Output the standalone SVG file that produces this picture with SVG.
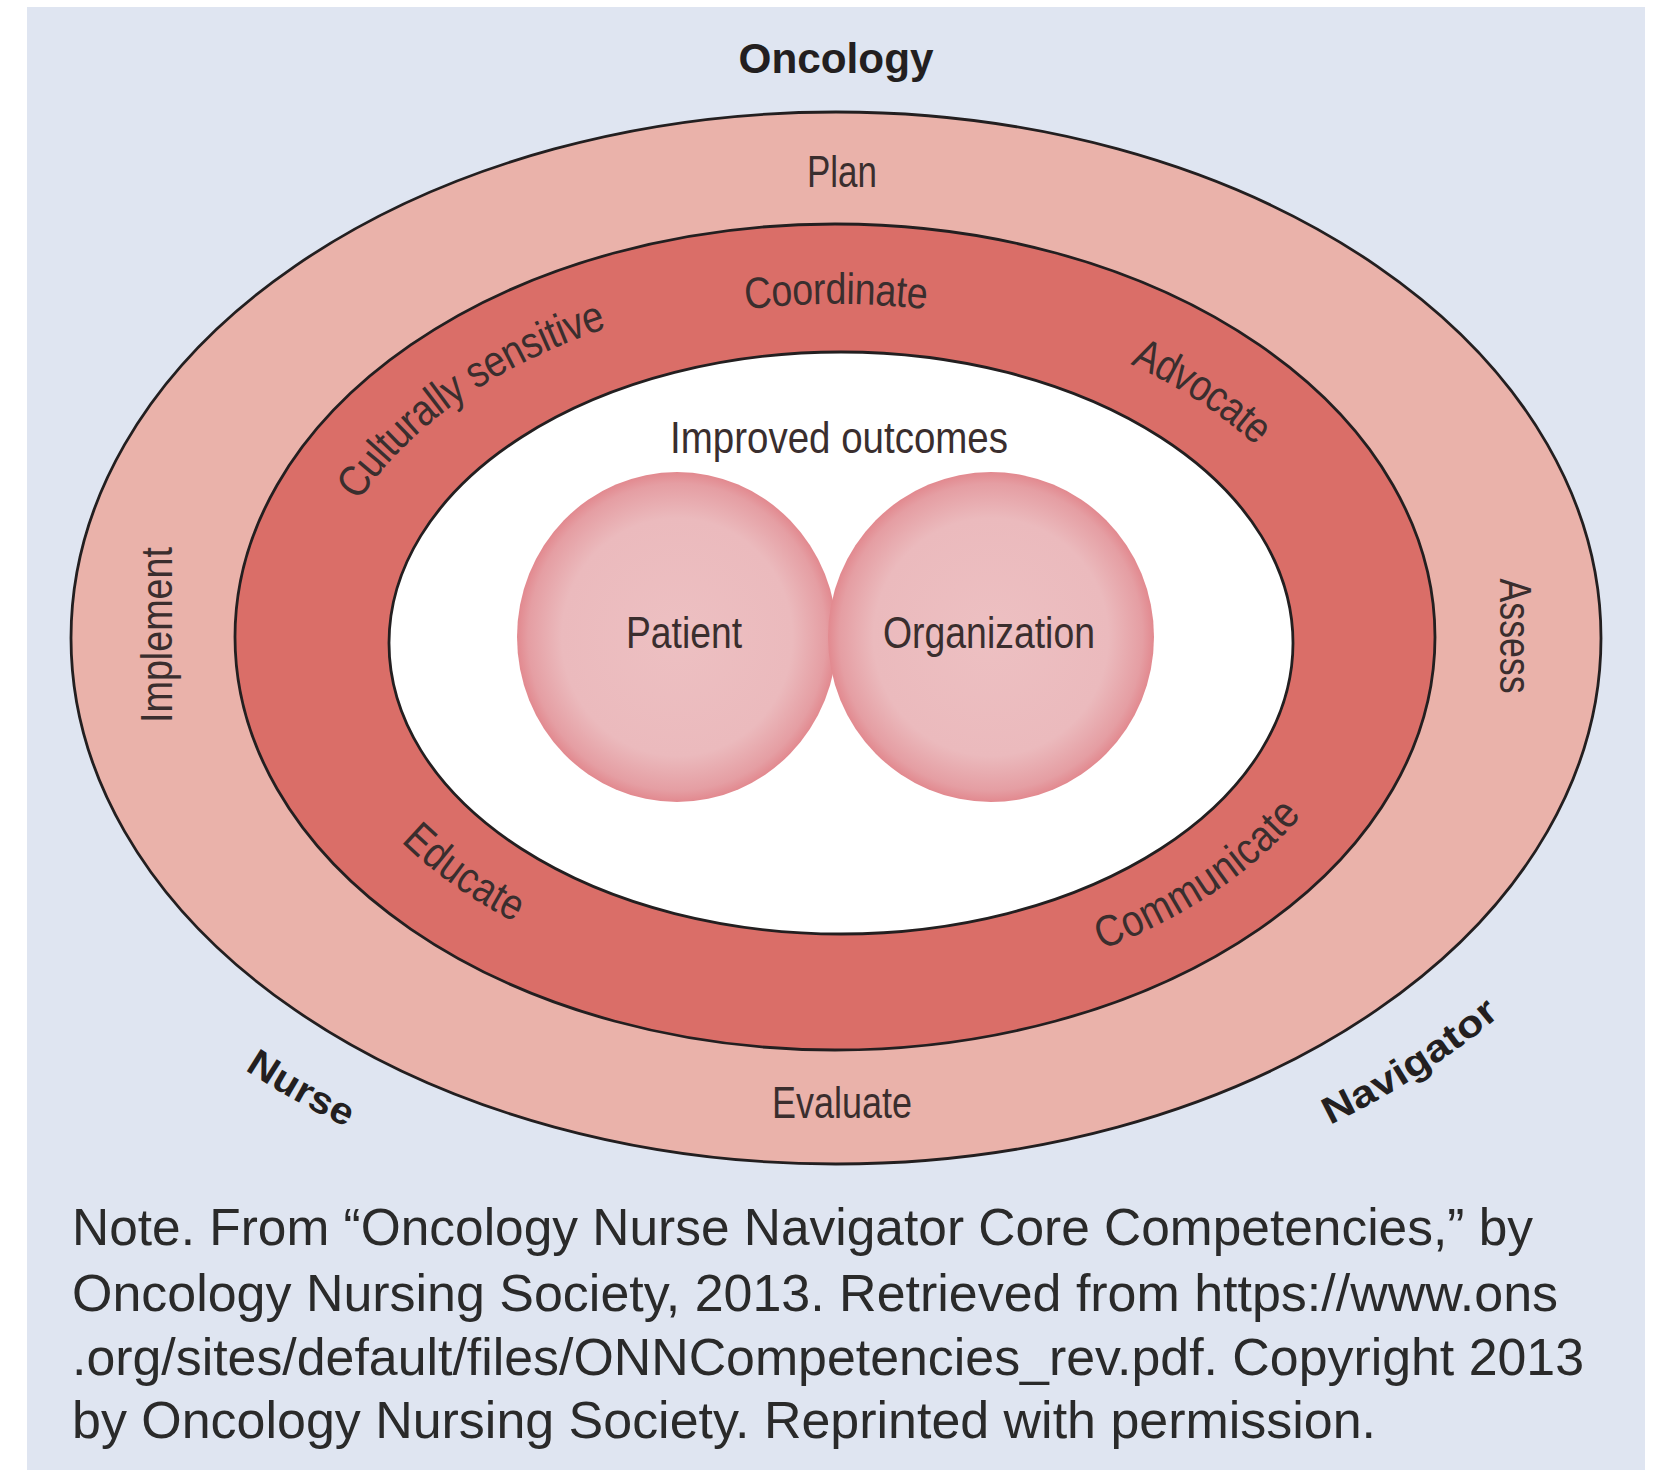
<svg xmlns="http://www.w3.org/2000/svg" width="1656" height="1470" viewBox="0 0 1656 1470">
<style>
.ring{stroke:#231f20;stroke-width:2.8}
.lbl{font-family:"Liberation Sans Narrow","Liberation Sans",Arial,sans-serif;font-size:44px;fill:#3a2e2e}
.big{font-family:"Liberation Sans",Arial,sans-serif;font-weight:bold;fill:#231f20}
.note{font-family:"Liberation Sans",Arial,sans-serif;font-size:52px;fill:#2a2a2a}
</style>
<defs>
<radialGradient id="bub" cx="50%" cy="50%" r="50%">
<stop offset="0" stop-color="#edc0c2"/>
<stop offset="0.72" stop-color="#ebbabd"/>
<stop offset="0.93" stop-color="#e59ea3"/>
<stop offset="1" stop-color="#e2898f"/>
</radialGradient>
<path id="pCult" d="M 317.4 545.8 A 542 366 0 0 1 640.2 301.6"/>
<path id="pCoord" d="M 655.8 309.2 A 527 352 0 0 1 1016.2 309.2"/>
<path id="pAdv" d="M 1098.5 333.6 A 527 352 0 0 1 1295.4 464"/>
<path id="pEdu" d="M 383.8 799.1 A 515 340 0 0 0 560.0 925.8"/>
<path id="pComm" d="M 1068.8 944.3 A 515 340 0 0 0 1310.2 777.2"/>
<path id="pNurse" d="M 225.4 1040.8 A 846 582 0 0 0 381.4 1128.9"/>
<path id="pNav" d="M 1294.3 1127.2 A 846 582 0 0 0 1512.5 987.4"/>
</defs>
<rect x="0" y="0" width="1656" height="1470" fill="#ffffff"/>
<rect id="background" x="27" y="7" width="1618" height="1463" fill="#dfe5f1"/>

<g id="outer-ring">
<ellipse class="ring" cx="836" cy="638" rx="765" ry="526" fill="#eab2aa"/>
</g>
<g id="middle-ring">
<ellipse class="ring" cx="835" cy="637" rx="600" ry="413" fill="#da6e68"/>
</g>
<g id="inner-area">
<ellipse class="ring" cx="841" cy="643" rx="452" ry="291" fill="#ffffff"/>
</g>
<g id="patient">
<ellipse cx="677" cy="637" rx="160" ry="165" fill="url(#bub)"/>
<text class="lbl" x="684" y="648" text-anchor="middle" textLength="116" lengthAdjust="spacingAndGlyphs" font-size="45" fill="#3b3136">Patient</text>
</g>
<g id="organization">
<ellipse cx="991" cy="637" rx="163" ry="165" fill="url(#bub)"/>
<text class="lbl" x="989" y="648" text-anchor="middle" textLength="212" lengthAdjust="spacingAndGlyphs" font-size="45" fill="#3b3136">Organization</text>
</g>

<g id="labels">
<g id="oncology"><text class="big" x="836" y="73" font-size="42" text-anchor="middle" textLength="195" lengthAdjust="spacingAndGlyphs">Oncology</text></g>
<g id="nurse"><text class="big" font-size="38" dominant-baseline="central"><textPath href="#pNurse" startOffset="50%" text-anchor="middle" textLength="116" lengthAdjust="spacingAndGlyphs">Nurse</textPath></text></g>
<g id="navigator"><text class="big" font-size="38" dominant-baseline="central"><textPath href="#pNav" startOffset="51%" text-anchor="middle" textLength="200" lengthAdjust="spacingAndGlyphs">Navigator</textPath></text></g>

<g id="plan"><text class="lbl" x="842" y="187" text-anchor="middle" textLength="70" lengthAdjust="spacingAndGlyphs">Plan</text></g>
<g id="implement"><text class="lbl" transform="translate(172,635) rotate(-90)" x="0" y="0" text-anchor="middle" textLength="176" lengthAdjust="spacingAndGlyphs">Implement</text></g>
<g id="assess"><text class="lbl" transform="translate(1500,636) rotate(90)" x="0" y="0" text-anchor="middle" textLength="115" lengthAdjust="spacingAndGlyphs">Assess</text></g>
<g id="evaluate"><text class="lbl" x="842" y="1118" text-anchor="middle" textLength="140" lengthAdjust="spacingAndGlyphs">Evaluate</text></g>

<g id="coordinate"><text class="lbl" dominant-baseline="central"><textPath href="#pCoord" startOffset="50%" text-anchor="middle" textLength="184" lengthAdjust="spacingAndGlyphs">Coordinate</textPath></text></g>
<g id="culturally-sensitive"><text class="lbl" dominant-baseline="central"><textPath href="#pCult" startOffset="52.5%" text-anchor="middle" textLength="318" lengthAdjust="spacingAndGlyphs">Culturally sensitive</textPath></text></g>
<g id="advocate"><text class="lbl" dominant-baseline="central"><textPath href="#pAdv" startOffset="50%" text-anchor="middle" textLength="155" lengthAdjust="spacingAndGlyphs">Advocate</textPath></text></g>
<g id="educate"><text class="lbl" dominant-baseline="central"><textPath href="#pEdu" startOffset="50%" text-anchor="middle" textLength="136" lengthAdjust="spacingAndGlyphs">Educate</textPath></text></g>
<g id="communicate"><text class="lbl" dominant-baseline="central"><textPath href="#pComm" startOffset="49%" text-anchor="middle" textLength="236" lengthAdjust="spacingAndGlyphs">Communicate</textPath></text></g>

<g id="improved-outcomes"><text class="lbl" x="839" y="453" font-size="45" fill="#575757" text-anchor="middle" textLength="338" lengthAdjust="spacingAndGlyphs">Improved outcomes</text></g>
</g>

<g id="note">
<text class="note" x="72" y="1245" textLength="1461" lengthAdjust="spacingAndGlyphs">Note. From “Oncology Nurse Navigator Core Competencies,” by</text>
<text class="note" x="72" y="1311" textLength="1486" lengthAdjust="spacingAndGlyphs">Oncology Nursing Society, 2013. Retrieved from https://www.ons</text>
<text class="note" x="72" y="1375" textLength="1512" lengthAdjust="spacingAndGlyphs">.org/sites/default/files/ONNCompetencies_rev.pdf. Copyright 2013</text>
<text class="note" x="72" y="1438" textLength="1304" lengthAdjust="spacingAndGlyphs">by Oncology Nursing Society. Reprinted with permission.</text>
</g>
</svg>
